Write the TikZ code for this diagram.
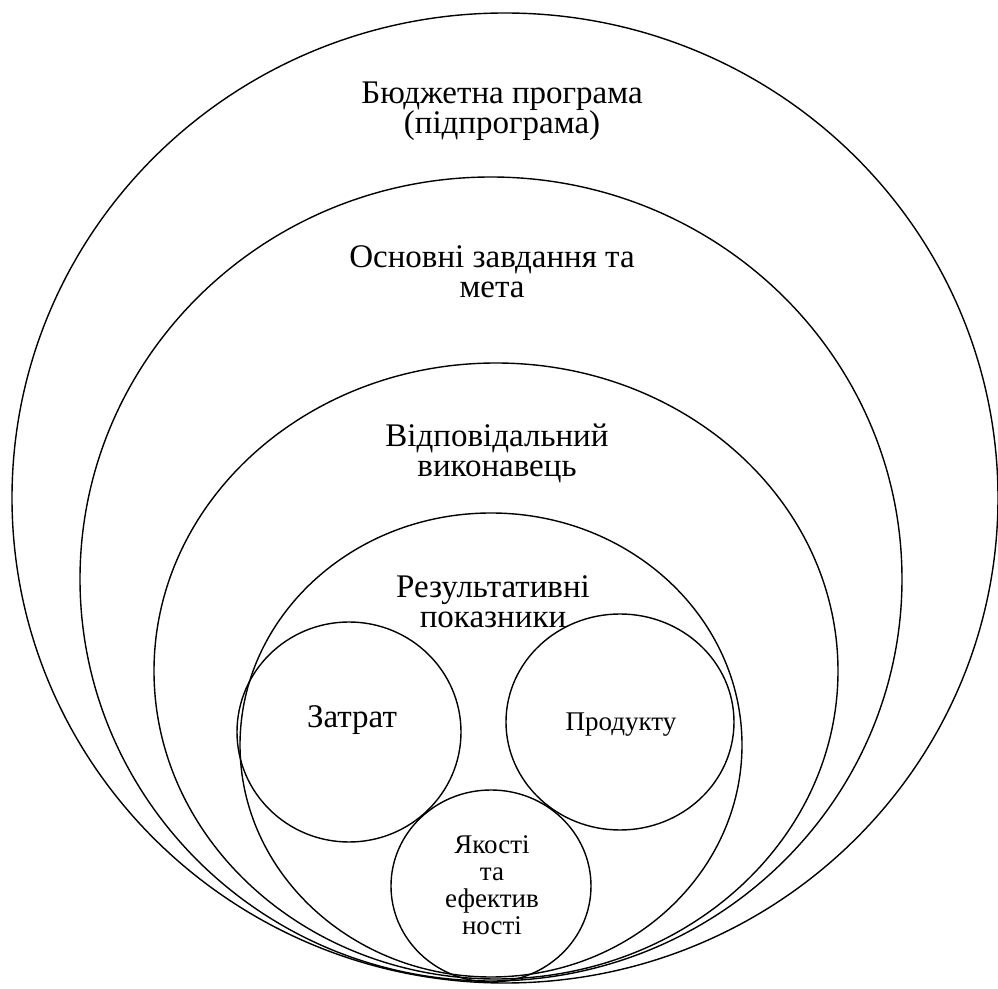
\documentclass[tikz,border=0pt]{standalone}
\usepackage{fontspec}
\setmainfont{Liberation Serif}
\begin{document}
\begin{tikzpicture}[x=0.5pt,y=-0.5pt,
  ring/.style={draw=black,line width=0.7pt},
  biglabel/.style={align=center,anchor=base,inner sep=0pt,font=\fontsize{16.5}{15}\selectfont},
  smalllabel/.style={align=center,anchor=base,inner sep=0pt,font=\fontsize{13.5}{13.5}\selectfont}]
  \useasboundingbox (0,0) rectangle (998,989);
  % nested areas, outermost first
  \draw[ring] (505,498) ellipse [x radius=493, y radius=485];
  \draw[ring] (491,579) ellipse [x radius=411, y radius=402];
  \draw[ring] (496,671) ellipse [x radius=342, y radius=308];
  \draw[ring] (491,745) ellipse [x radius=251, y radius=232];
  % the three kinds of indicators
  \draw[ring] (349,732) ellipse [x radius=112, y radius=110];
  \draw[ring] (620,722) ellipse [x radius=114, y radius=108];
  \draw[ring] (491,886) ellipse [x radius=100, y radius=96];
  % labels (base anchor sits on the last line)
  \node[biglabel] (budget) at (502,134) {Бюджетна програма\\(підпрограма)};
  \node[biglabel] (tasks) at (492,298) {Основні завдання та\\мета};
  \node[biglabel] (executor) at (497,477) {Відповідальний\\виконавець};
  \node[biglabel] (results) at (493,628) {Результативні\\показники};
  \node[biglabel] (costs) at (352,728) {Затрат};
  \node[smalllabel] (product) at (621,731) {Продукту};
  \node[smalllabel] (quality) at (492,935) {Якості\\та\\ефектив\\ності};
\end{tikzpicture}
\end{document}
